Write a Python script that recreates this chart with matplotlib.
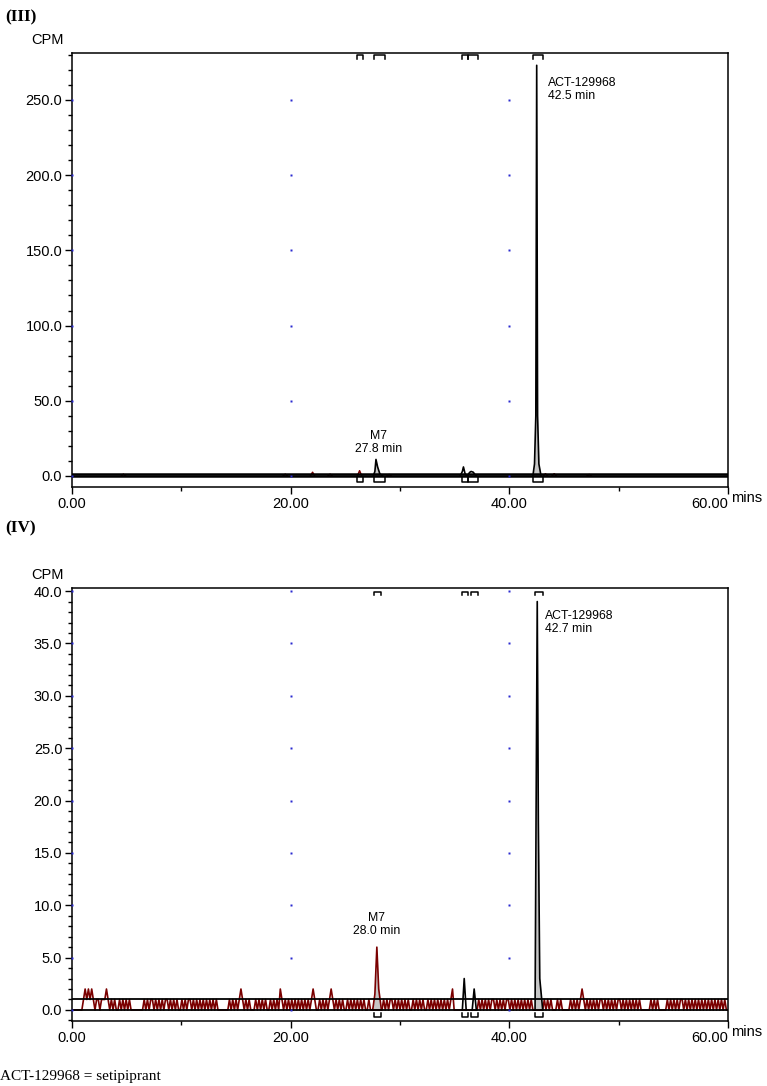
import numpy as np
import matplotlib
matplotlib.use('Agg')
import matplotlib.pyplot as plt
from matplotlib.ticker import MultipleLocator, FormatStrFormatter

plt.rcParams['font.family'] = ['Liberation Sans', 'DejaVu Sans']

DARK_RED = '#7a0000'
FILL = '#c6c6c6'
DOT = '#2a2ad0'

# ---------------- panel (III) ----------------
iii_main_t = [42.15, 42.3, 42.42, 42.5, 42.58, 42.7, 42.9]
iii_main_y = [0, 8, 40, 273, 40, 8, 0]
iii_m7_t = [27.55, 27.7, 27.8, 27.95, 28.15, 28.4]
iii_m7_y = [0, 3, 11, 6, 1.5, 0]
iii_p358_t = [35.5, 35.7, 35.8, 35.95, 36.1]
iii_p358_y = [0, 3, 6, 1.5, 0]
iii_p366_t = [36.2, 36.35, 36.5, 36.7, 36.85, 37.0]
iii_p366_y = [0, 2.3, 3, 2.5, 1, 0]
# small unintegrated bumps (centre, height)
iii_bumps_t = [4.7, 19.5, 22.0, 23.6, 26.3, 29.0, 43.3, 44.1, 47.3]
iii_bumps_y = [1.2, 1.2, 2.5, 1.2, 3.5, 1.0, 1.5, 1.5, 1.0]
iii_regions = [(26.05, 26.6), (27.6, 28.6), (35.65, 36.25), (36.25, 37.1), (42.2, 43.1)]

# ---------------- panel (IV) ----------------
iv_step = 0.15
iv_noise_blocks = [
    "00000001212121011011", "12101010010101010000", "00001010110101010110",
    "10101001010110101010", "10101010100000001010", "10121010100010101010",
    "01010102101010101010", "10101012100101010121", "01010100101010101010",
    "01000000001010110101", "01010100101010100101", "01010101010120000000",
    "00000000101010101101", "01010110101010101010", "10000000101010001010",
    "00001010101210101010", "10110101010101101010", "10101010000001010100",
    "00010101010110101010", "10101010101010101010", "0",
]
iv_main_t = [42.35, 42.45, 42.55, 42.65, 42.78, 43.05]
iv_main_y = [0, 20, 39, 18, 3, 0]
iv_m7_t = [27.5, 27.7, 27.88, 28.05, 28.3]
iv_m7_y = [0, 1.5, 6, 2, 0]
iv_p359_t = [35.7, 35.87, 36.05]
iv_p359_y = [0, 3, 0]
iv_p368_t = [36.6, 36.78, 36.98]
iv_p368_y = [0, 2, 0]
iv_regions = [(27.65, 28.3), (35.65, 36.2), (36.5, 37.1), (42.35, 43.1)]


def draw_peak(ax, t, y, color, fill=True):
    if fill:
        ax.fill_between(t, y, color=FILL, lw=0, zorder=2)
    ax.plot(t, y, color=color, lw=1.2, zorder=3)


def draw_regions(ax, spans, top_h, top_l, bot_h, bot_l):
    tr = ax.get_xaxis_transform()
    for x0, x1 in spans:
        ax.plot([x0, x0, x1, x1], [top_l, top_h, top_h, top_l], color='black',
                lw=1.1, transform=tr, clip_on=False, zorder=5)
        ax.plot([x0, x0, x1, x1], [bot_l, bot_h, bot_h, bot_l], color='black',
                lw=1.1, transform=tr, clip_on=False, zorder=5)


def style_axes(ax, ylim, ymajor, yminor):
    ax.set_xlim(0, 60)
    ax.set_ylim(*ylim)
    ax.set_xticks([0, 20, 40, 60], ['0.00', '20.00', '40.00', '60.00'])
    ax.xaxis.set_minor_locator(MultipleLocator(10))
    ax.yaxis.set_major_locator(MultipleLocator(ymajor))
    ax.yaxis.set_minor_locator(MultipleLocator(yminor))
    ax.yaxis.set_major_formatter(FormatStrFormatter('%.1f'))
    ax.tick_params(which='major', direction='out', length=5, width=1,
                   labelsize=10.5, pad=2, colors='black')
    ax.tick_params(which='minor', direction='out', length=3, width=1)
    for s in ax.spines.values():
        s.set_linewidth(1.1)
    ax.get_xticklabels()[-1].set_horizontalalignment('right')
    ax.text(1.005, -0.025, 'mins', transform=ax.transAxes, fontsize=10.5,
            ha='left', va='center')
    ax.text(-0.037, 1.03, 'CPM', transform=ax.transAxes, fontsize=10.5,
            ha='center', va='center')
    # grid dots
    yt = np.arange(0, ylim[1] + 0.01, ymajor)
    for xv in [0, 20, 40]:
        ax.plot(np.full(len(yt), xv), yt, 's', ms=1.5, mec='none', color=DOT,
                zorder=6, clip_on=False)


fig = plt.figure(figsize=(7.67, 10.86), dpi=100)

# ---- (III)
ax1 = fig.add_axes([0.0939, 0.5516, 0.8553, 0.3996])
style_axes(ax1, (-7.3, 281.2), 50, 10)
for c, h in zip(iii_bumps_t, iii_bumps_y):
    ax1.plot([c - 0.2, c, c + 0.2], [0, h, 0], color=DARK_RED, lw=1.1, zorder=2)
ax1.axhline(0, color='black', lw=1.8, zorder=4)
ax1.axhline(1.2, color='black', lw=1.8, zorder=4)
draw_peak(ax1, iii_m7_t, iii_m7_y, 'black')
draw_peak(ax1, iii_p358_t, iii_p358_y, 'black', fill=False)
draw_peak(ax1, iii_p366_t, iii_p366_y, 'black', fill=False)
draw_peak(ax1, iii_main_t, iii_main_y, 'black')
draw_regions(ax1, iii_regions, 0.9954, 0.9861, 0.0115, 0.0231)
ax1.text(28.05, 14, 'M7\n27.8 min', fontsize=8.8, ha='center', va='bottom',
         linespacing=1.1)
ax1.text(43.5, 265, 'ACT-129968\n42.5 min', fontsize=8.8, ha='left', va='top',
         linespacing=1.1)

# ---- (IV)
ax2 = fig.add_axes([0.0939, 0.0599, 0.8553, 0.3987])
style_axes(ax2, (-1.05, 40.3), 5, 1)
iv_noise = np.array([int(ch) for ch in ''.join(iv_noise_blocks)], dtype=float)
iv_t = np.arange(len(iv_noise)) * iv_step
ax2.plot(iv_t, iv_noise, color=DARK_RED, lw=1.2, zorder=3)
ax2.axhline(0, color='black', lw=1.3, zorder=4)
ax2.axhline(1, color='black', lw=1.3, zorder=4)
draw_peak(ax2, iv_m7_t, iv_m7_y, DARK_RED)
draw_peak(ax2, iv_p359_t, iv_p359_y, 'black', fill=False)
draw_peak(ax2, iv_p368_t, iv_p368_y, 'black', fill=False)
draw_peak(ax2, iv_main_t, iv_main_y, 'black')
draw_regions(ax2, iv_regions, 0.9915, 0.984, 0.0099, 0.0192)
ax2.text(27.85, 7.0, 'M7\n28.0 min', fontsize=8.8, ha='center', va='bottom',
         linespacing=1.1)
ax2.text(43.3, 38.2, 'ACT-129968\n42.7 min', fontsize=8.8, ha='left', va='top',
         linespacing=1.1)

fig.text(0.0065, 0.991, '(III)', family='Liberation Serif', weight='bold',
         fontsize=12.5, ha='left', va='top')
fig.text(0.0065, 0.521, '(IV)', family='Liberation Serif', weight='bold',
         fontsize=12.5, ha='left', va='top')
fig.text(0.0, 0.0083, 'ACT-129968 = setipiprant', family='Liberation Serif',
         fontsize=11, ha='left', va='center')

fig.savefig('out.png', dpi=100)
